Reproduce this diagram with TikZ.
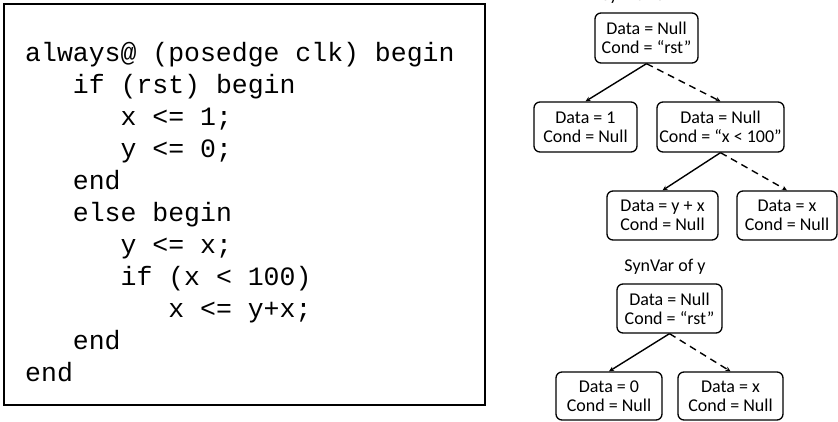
\documentclass[tikz,border=0pt]{standalone}
\usepackage{fontspec}
\setmonofont{Liberation Mono}
\newfontfamily\treefont{Carlito}
\usetikzlibrary{arrows.meta}
\begin{document}
\begin{tikzpicture}[x=1pt,y=-1pt,
  codeline/.style={anchor=base west,inner sep=0pt,font=\fontsize{26.5}{30}\selectfont\ttfamily},
  treebox/.style={draw,rounded corners=6pt,line width=1.3pt,align=center,inner sep=0pt,
    font=\fontsize{18}{19}\selectfont\treefont},
  treetitle/.style={inner sep=0pt,font=\fontsize{18}{19}\selectfont\treefont},
  tbranch/.style={line width=1.4pt,-{Stealth[length=5pt,width=4.5pt]}},
  fbranch/.style={tbranch,dash pattern=on 7pt off 5pt}]
\useasboundingbox (0,0) rectangle (838,421);

% Verilog source
\draw[line width=1.6pt] (4,4) rectangle (485,405);
\def\cw{15.9}
\node[codeline] (c1)  at (25,61)            {always@ (posedge clk) begin};
\node[codeline] (c2)  at (25+3*\cw,93)      {if (rst) begin};
\node[codeline] (c3)  at (25+6*\cw,125)     {x <= 1;};
\node[codeline] (c4)  at (25+6*\cw,157)     {y <= 0;};
\node[codeline] (c5)  at (25+3*\cw,189)     {end};
\node[codeline] (c6)  at (25+3*\cw,221)     {else begin};
\node[codeline] (c7)  at (25+6*\cw,253)     {y <= x;};
\node[codeline] (c8)  at (25+6*\cw,285)     {if (x < 100)};
\node[codeline] (c9)  at (25+9*\cw,317)     {x <= y+x;};
\node[codeline] (c10) at (25+3*\cw,349)     {end};
\node[codeline] (c11) at (25,381)           {end};

% SynVar tree of x
\node[treetitle] (tx) at (642,-4) {SynVar of x};
\node[treebox,minimum width=103pt,minimum height=50pt] (x0) at (646.5,38)
  {Data = Null\\Cond = “rst”};
\node[treebox,minimum width=103pt,minimum height=50pt] (x1) at (585.5,127)
  {Data = 1\\Cond = Null};
\node[treebox,minimum width=127pt,minimum height=50pt] (x2) at (720.5,127)
  {Data = Null\\Cond = “x < 100”};
\node[treebox,minimum width=111pt,minimum height=49pt] (x3) at (662.5,215.5)
  {Data = y + x\\Cond = Null};
\node[treebox,minimum width=100pt,minimum height=49pt] (x4) at (787,215.5)
  {Data = x\\Cond = Null};
\draw[tbranch] (x0.south) -- (x1.north);
\draw[fbranch] (x0.south) -- (x2.north);
\draw[tbranch] (x2.south) -- (x3.north);
\draw[fbranch] (x2.south) -- (x4.north);

% SynVar tree of y
\node[treetitle] (ty) at (665,267) {SynVar of y};
\node[treebox,minimum width=105pt,minimum height=49pt] (y0) at (669.5,308.5)
  {Data = Null\\Cond = “rst”};
\node[treebox,minimum width=106pt,minimum height=48pt] (y1) at (609,396)
  {Data = 0\\Cond = Null};
\node[treebox,minimum width=105pt,minimum height=48pt] (y2) at (730.5,396)
  {Data = x\\Cond = Null};
\draw[tbranch] (y0.south) -- (y1.north);
\draw[fbranch] (y0.south) -- (y2.north);
\end{tikzpicture}
\end{document}
